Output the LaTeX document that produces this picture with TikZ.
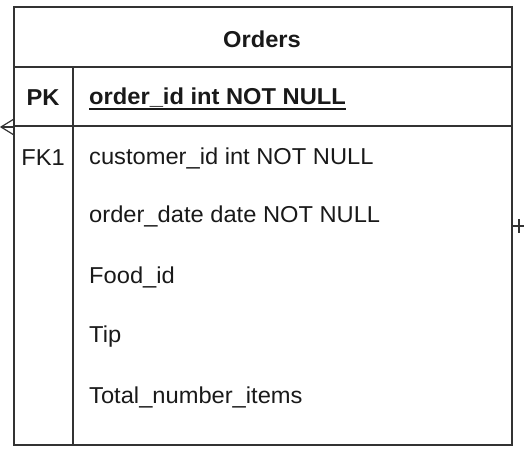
\documentclass[tikz,border=0pt]{standalone}
\usepackage{fontspec}
\setmainfont{Liberation Sans}
\newcommand{\widetxt}[1]{\scalebox{1.03}[1]{#1}}
\begin{document}
\begin{tikzpicture}[x=1pt,y=-1pt,
  line/.style={draw=black!80,line width=1.4pt},
  txt/.style={font=\fontsize{23}{27}\selectfont,inner sep=0pt,anchor=west,text=black!90},
  btxt/.style={font=\fontsize{23}{27}\selectfont\bfseries,inner sep=0pt,text=black!90}]
\useasboundingbox (0,0) rectangle (524,461);
% table frame
\coordinate (tl) at (14,7);
\coordinate (br) at (512,445);
\draw[line] (tl) rectangle (br);
\draw[line] (14,67) -- (512,67);
\draw[line,line width=2pt] (14,126) -- (512,126);
\draw[line] (73,67) -- (73,445);
% header
\node[btxt] (title) at (262,39) {\widetxt{Orders}};
\node[btxt] (pk) at (43,98) {\widetxt{PK}};
\node[btxt,anchor=west] (ordid) at (89,98) {\widetxt{order\_id int NOT NULL}};
\draw[black!90,line width=1.3pt] ([yshift=-4pt]ordid.base west) -- ([yshift=-4pt]ordid.base east);
% rows
\node[font=\fontsize{23}{27}\selectfont,inner sep=0pt,text=black!90] (fk) at (43,158) {\widetxt{FK1}};
\node[txt] (r1) at (89,158) {\widetxt{customer\_id int NOT NULL}};
\node[txt] (r2) at (89,216) {\widetxt{order\_date date NOT NULL}};
\node[txt] (r3) at (89,277) {\widetxt{Food\_id}};
\node[txt] (r4) at (89,337) {\widetxt{Tip}};
\node[txt] (r5) at (89,397) {\widetxt{Total\_number\_items}};
% left crow's foot
\coordinate (cv) at (1,127);
\coordinate (ca) at (14,119);
\coordinate (cb) at (14,135);
\coordinate (cm) at (14,127);
\draw[black!80,line width=1.2pt] (ca) -- (cv) -- (cb);
\draw[black!80,line width=1.2pt] (cv) -- (cm);
% right one mark
\coordinate (ra) at (512,226);
\coordinate (rb) at (524,226);
\coordinate (rt) at (519,219);
\coordinate (rd) at (519,233);
\draw[black!80,line width=1.2pt] (ra) -- (rb);
\draw[black!80,line width=1.2pt] (rt) -- (rd);
\end{tikzpicture}
\end{document}
